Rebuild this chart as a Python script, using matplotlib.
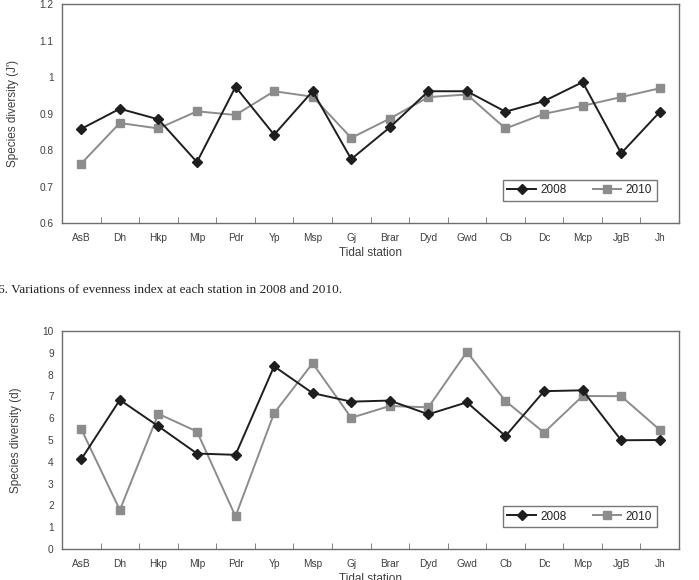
import matplotlib.pyplot as plt

stations = ['AsB', 'Dh', 'Hkp', 'Mlp', 'Pdr', 'Yp', 'Msp', 'Gj',
            'Brar', 'Dyd', 'Gwd', 'Cb', 'Dc', 'Mcp', 'JgB', 'Jh']

# evenness index (J')
even_2008 = [0.858, 0.913, 0.884, 0.767, 0.973, 0.842, 0.961, 0.775,
             0.862, 0.961, 0.961, 0.905, 0.934, 0.986, 0.791, 0.904]
even_2010 = [0.763, 0.874, 0.859, 0.906, 0.896, 0.961, 0.946, 0.833,
             0.886, 0.945, 0.952, 0.859, 0.899, 0.921, 0.945, 0.969]

# richness index (d)
rich_2008 = [4.12, 6.84, 5.63, 4.38, 4.32, 8.38, 7.15, 6.76,
             6.81, 6.18, 6.73, 5.18, 7.24, 7.28, 4.99, 5.00]
rich_2010 = [5.50, 1.79, 6.20, 5.39, 1.50, 6.23, 8.52, 6.02,
             6.56, 6.50, 9.04, 6.79, 5.34, 7.02, 7.01, 5.47]

plt.rcParams['font.family'] = ['Liberation Sans', 'DejaVu Sans']

fig = plt.figure(figsize=(6.99, 5.8), dpi=100)
ax1 = fig.add_axes([0.0887, 0.6155, 0.8827, 0.3776])
ax2 = fig.add_axes([0.0887, 0.0534, 0.8827, 0.3759])

x = list(range(len(stations)))
frame_col = '#6e6e6e'
text_col = '#404040'


def draw(ax, s08, s10, ylim, yticks, ytick_labels, ylabel):
    ax.plot(x, s08, color='#1e1e1e', lw=1.4, marker='D', ms=5.5, label='2008', zorder=3)
    ax.plot(x, s10, color='#8c8c8c', lw=1.4, marker='s', ms=5.5, label='2010', zorder=2)
    ax.set_xlim(-0.5, len(stations) - 0.5)
    ax.set_ylim(*ylim)
    ax.set_yticks(yticks)
    ax.set_yticklabels(ytick_labels)
    ax.set_xticks(x)
    ax.set_xticklabels(stations)
    ax.set_xticks([i + 0.5 for i in range(len(stations) - 1)], minor=True)
    ax.tick_params(axis='x', which='major', length=0, pad=7, labelsize=7.3, colors=text_col)
    ax.tick_params(axis='x', which='minor', direction='in', length=4, color=frame_col)
    ax.tick_params(axis='y', length=0, pad=6, labelsize=7.3, colors=text_col)
    for sp in ax.spines.values():
        sp.set_color(frame_col)
        sp.set_linewidth(1.0)
    ax.set_xlabel('Tidal station', fontsize=8.5, color=text_col, labelpad=3)
    ax.set_ylabel(ylabel, fontsize=8.5, color=text_col, labelpad=15)
    leg = ax.legend(loc='lower right', bbox_to_anchor=(0.964, 0.10), ncol=2, fontsize=8.5,
                    frameon=True, fancybox=False, edgecolor='#555555',
                    handlelength=2.4, columnspacing=2.2, borderpad=0.4,
                    handletextpad=0.4, borderaxespad=0)
    leg.get_frame().set_linewidth(1.0)
    for t in leg.get_texts():
        t.set_color('#222222')


draw(ax1, even_2008, even_2010, (0.6, 1.2),
     [0.6, 0.7, 0.8, 0.9, 1.0, 1.1, 1.2],
     ['0.6', '0.7', '0.8', '0.9', '1', '1.1', '1.2'],
     "Species diversity (J')")
draw(ax2, rich_2008, rich_2010, (0, 10),
     list(range(11)), [str(i) for i in range(11)],
     'Species diversity (d)')

fig.text(-0.003, 0.5, '6. Variations of evenness index at each station in 2008 and 2010.',
         family=['Liberation Serif', 'DejaVu Serif'], fontsize=9.5, color='#222222',
         va='center', ha='left')

fig.savefig('out.png', dpi=100)
